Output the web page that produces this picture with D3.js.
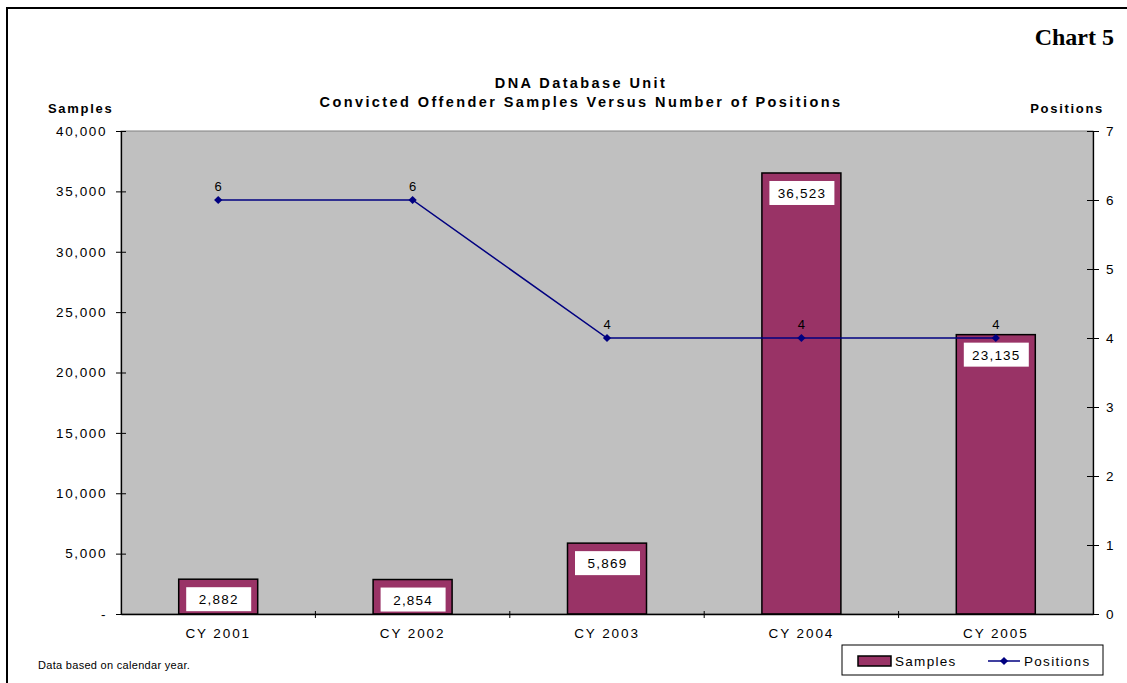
<!DOCTYPE html>
<html>
<head>
<meta charset="utf-8">
<script src="https://cdn.jsdelivr.net/npm/d3@7"></script>
<style>
  html, body { margin: 0; padding: 0; background: #fff; }
  svg { display: block; }
</style>
</head>
<body>
<svg id="chart" width="1127" height="683"></svg>
<script>
// Chart data
const categories = ["CY 2001", "CY 2002", "CY 2003", "CY 2004", "CY 2005"];
const samples = [2882, 2854, 5869, 36523, 23135];
const positions = [6, 6, 4, 4, 4];
const sampleTicks = [0, 5000, 10000, 15000, 20000, 25000, 30000, 35000, 40000];
const positionTicks = [0, 1, 2, 3, 4, 5, 6, 7];

const SANS = "'Liberation Sans', Arial, sans-serif";
const SERIF = "'Liberation Serif', 'Times New Roman', serif";

const svg = d3.select("#chart").style("font-family", SANS);
const plot = { left: 121, right: 1093, top: 131, bottom: 614 };

// Outer frame
svg.append("rect")
  .attr("x", 7).attr("y", 8).attr("width", 1130).attr("height", 690)
  .attr("fill", "none").attr("stroke", "#000").attr("stroke-width", 2);

const x = d3.scaleBand().domain(categories).range([plot.left, plot.right]).paddingInner(0).paddingOuter(0);
const yL = d3.scaleLinear().domain([0, 40000]).range([plot.bottom, plot.top]);
const yR = d3.scaleLinear().domain([0, 7]).range([plot.bottom, plot.top]);

// Plot background
svg.append("rect")
  .attr("x", plot.left).attr("y", plot.top)
  .attr("width", plot.right - plot.left).attr("height", plot.bottom - plot.top)
  .attr("fill", "#c0c0c0").attr("stroke", "#808080").attr("stroke-width", 1);

// Bars
const barW = 79;
svg.append("g").selectAll("rect").data(samples).join("rect")
  .attr("x", (d, i) => x(categories[i]) + x.bandwidth() / 2 - barW / 2)
  .attr("y", d => yL(d))
  .attr("width", barW)
  .attr("height", d => yL(0) - yL(d))
  .attr("fill", "#993366").attr("stroke", "#000").attr("stroke-width", 1.5);

// Axes
const fmt = d3.format(",");
const axisL = d3.axisLeft(yL).tickValues(sampleTicks).tickSizeInner(5).tickSizeOuter(0)
  .tickFormat(d => d === 0 ? "-" : fmt(d)).tickPadding(9);
const gL = svg.append("g").attr("transform", `translate(${plot.left},0)`).call(axisL);

const axisR = d3.axisRight(yR).tickValues(positionTicks).tickSizeInner(6).tickSizeOuter(0)
  .tickFormat(d3.format("d")).tickPadding(7);
const gR = svg.append("g").attr("transform", `translate(${plot.right},0)`).call(axisR);

const axisB = d3.axisBottom(x).tickSize(0).tickPadding(14);
const gB = svg.append("g").attr("transform", `translate(0,${plot.bottom})`).call(axisB);

[gL, gR, gB].forEach(g => {
  g.attr("font-family", SANS);
  g.select(".domain").attr("stroke", "#000").attr("stroke-width", 1.3);
  g.selectAll(".tick line").attr("stroke", "#000");
  g.selectAll("text").attr("font-size", 13.5).attr("fill", "#000")
    .style("letter-spacing", "1.6px");
});
gB.selectAll("text").style("letter-spacing", "1.9px");
// Ticks cross the axes
gL.selectAll(".tick line").attr("x1", 5);
gR.selectAll(".tick line").attr("x1", -6);

// Category boundary ticks
const bounds = categories.slice(1).map(c => x(c));
svg.append("g").selectAll("line").data(bounds).join("line")
  .attr("x1", d => d).attr("x2", d => d)
  .attr("y1", plot.bottom - 3).attr("y2", plot.bottom + 4)
  .attr("stroke", "#000");

// Positions line with square-diamond markers
const cx = i => x(categories[i]) + x.bandwidth() / 2;
const line = d3.line().x((d, i) => cx(i)).y(d => yR(d));
const marker = d3.symbol(d3.symbolSquare, 34);
svg.append("path").datum(positions)
  .attr("d", line).attr("fill", "none").attr("stroke", "#000080").attr("stroke-width", 1.5);
svg.append("g").selectAll("path").data(positions).join("path")
  .attr("d", marker)
  .attr("transform", (d, i) => `translate(${cx(i)},${yR(d)}) rotate(45)`)
  .attr("fill", "#000080");

// Position value labels
svg.append("g").selectAll("text").data(positions).join("text")
  .attr("x", (d, i) => cx(i)).attr("y", d => yR(d) - 9)
  .attr("text-anchor", "middle").attr("font-size", 13).attr("fill", "#000")
  .text(d => d);

// Sample value labels in white boxes
const lbl = svg.append("g").selectAll("g").data(samples).join("g")
  .attr("transform", (d, i) => `translate(${cx(i)},${yL(d) + 8})`);
lbl.append("rect")
  .attr("x", -32).attr("y", 0).attr("width", 65).attr("height", 24)
  .attr("fill", "#fff");
lbl.append("text")
  .attr("x", 0.5).attr("y", 17).attr("text-anchor", "middle")
  .attr("font-size", 13.5).attr("fill", "#000").style("letter-spacing", "1.2px")
  .text(d => fmt(d));

// Titles
svg.append("text").attr("x", 1114).attr("y", 45).attr("text-anchor", "end")
  .style("font-family", SERIF)
  .attr("font-weight", "bold").attr("font-size", 24).text("Chart 5");

const title = svg.append("text").attr("text-anchor", "middle")
  .attr("font-weight", "bold").attr("font-size", 14.5).style("letter-spacing", "2.4px");
title.append("tspan").attr("x", 581).attr("y", 88).text("DNA Database Unit");
title.append("tspan").attr("x", 581).attr("y", 107).text("Convicted Offender Samples Versus Number of Positions");

svg.append("text").attr("x", 48).attr("y", 113)
  .attr("font-weight", "bold").attr("font-size", 13).style("letter-spacing", "1.7px").text("Samples");
svg.append("text").attr("x", 1104).attr("y", 113).attr("text-anchor", "end")
  .attr("font-weight", "bold").attr("font-size", 13).style("letter-spacing", "1.7px").text("Positions");

svg.append("text").attr("x", 38).attr("y", 669)
  .attr("font-size", 11).style("letter-spacing", "0.3px").text("Data based on calendar year.");

// Legend
const lg = svg.append("g").attr("transform", "translate(842,645)");
lg.append("rect").attr("x", 0).attr("y", 0).attr("width", 261).attr("height", 30)
  .attr("fill", "#fff").attr("stroke", "#000").attr("stroke-width", 1);
lg.append("rect").attr("x", 16).attr("y", 11).attr("width", 33).attr("height", 10)
  .attr("fill", "#993366").attr("stroke", "#000").attr("stroke-width", 1.5);
lg.append("text").attr("x", 53).attr("y", 20.5).attr("font-size", 13.5)
  .style("letter-spacing", "1.3px").text("Samples");
lg.append("line").attr("x1", 146).attr("x2", 178).attr("y1", 16).attr("y2", 16)
  .attr("stroke", "#000080").attr("stroke-width", 1.5);
lg.append("path").attr("d", marker)
  .attr("transform", "translate(162,16) rotate(45)").attr("fill", "#000080");
lg.append("text").attr("x", 182).attr("y", 20.5).attr("font-size", 13.5)
  .style("letter-spacing", "1.3px").text("Positions");
</script>
</body>
</html>
